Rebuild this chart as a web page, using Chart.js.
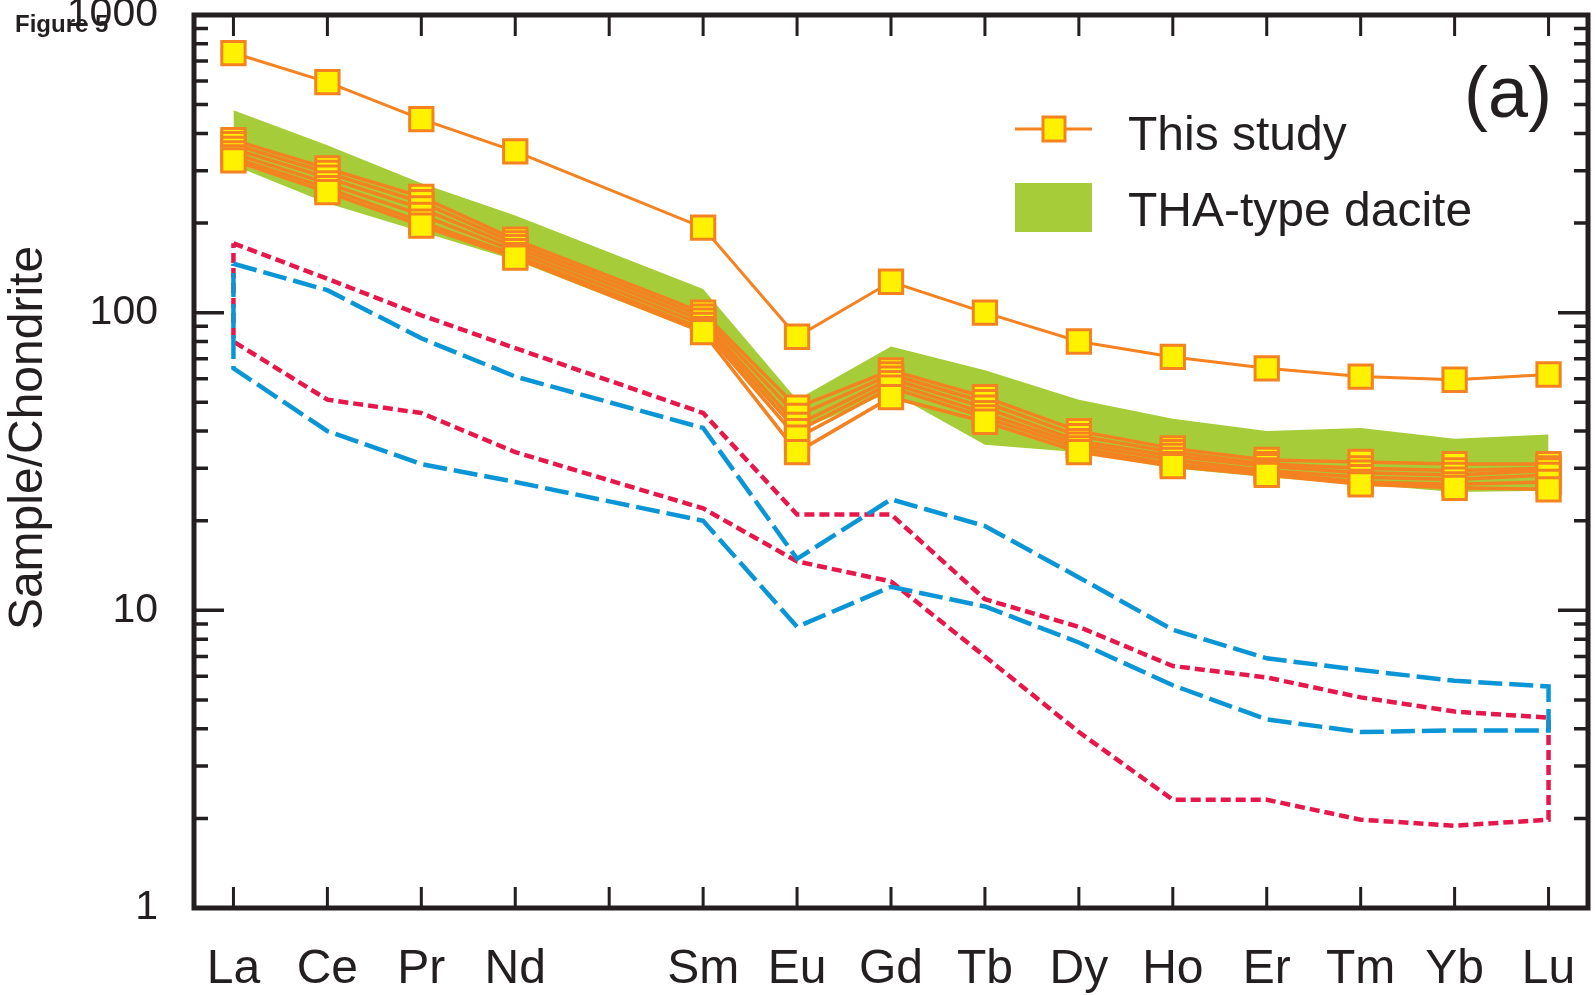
<!DOCTYPE html>
<html>
<head>
<meta charset="utf-8">
<title>REE pattern</title>
<script src="https://cdn.jsdelivr.net/npm/chart.js@4.4.1/dist/chart.umd.min.js"></script>
<style>
  html, body { margin: 0; padding: 0; background: #fff; }
  #wrap { width: 1596px; height: 995px; }
</style>
</head>
<body>
<div id="wrap"><canvas id="reeChart" width="1596" height="995"></canvas></div>
<script>
// tick labels along the bottom (Pm slot stays empty)
const tickLabels = ['La', 'Ce', 'Pr', 'Nd', '', 'Sm', 'Eu', 'Gd', 'Tb', 'Dy', 'Ho', 'Er', 'Tm', 'Yb', 'Lu'];
const ree = ['La', 'Ce', 'Pr', 'Nd', 'Sm', 'Eu', 'Gd', 'Tb', 'Dy', 'Ho', 'Er', 'Tm', 'Yb', 'Lu'];
const yTicks = [1, 10, 100, 1000];

// This study - chondrite normalised
const studyHigh = [745, 595, 447, 348, 193, 83, 127, 100, 80, 71, 65, 61, 59.5, 62];
const study1 = [380, 305, 245, 176, 100, 48, 64, 52, 40, 35, 32, 31.5, 31, 31];
const study2 = [368, 295, 235, 171, 97, 45, 62, 50, 38.5, 34, 31, 30, 29.5, 30];
const study3 = [355, 284, 224, 166, 94, 42, 60, 48, 37, 33, 30.5, 29, 28.5, 29.5];
const study4 = [343, 272, 213, 161, 91, 40, 58, 46, 36, 32, 29.5, 28, 27.5, 28.5];
const study5 = [332, 262, 202, 156, 88, 38, 56, 44.5, 35, 31, 29, 27, 26.5, 27];
const study6 = [325, 254, 196, 153, 86, 34, 52, 43, 34, 30.5, 28.5, 26.5, 25.8, 25.5];

// THA-type dacite field
const thaUpper = [479, 365, 272, 212, 120, 51, 77, 64, 51, 44, 40, 41, 37.7, 39];
const thaLower = [313, 233, 187, 150, 85, 40, 54, 36, 34, 30, 28, 26.5, 25, 25.2];

// dashed fields
const blueUpper = [146, 119, 82, 61, 41, 14.9, 23.6, 19.2, 12.9, 8.6, 6.9, 6.3, 5.8, 5.55];
const blueLower = [65, 40, 31, 27, 20, 8.8, 12, 10.3, 7.8, 5.6, 4.3, 3.9, 3.95, 3.95];
const redUpper = [171, 130, 98, 76, 46, 21, 21, 10.9, 8.8, 6.5, 5.95, 5.1, 4.57, 4.36];
const redLower = [80, 51, 46, 34, 22, 14.6, 12.5, 7.0, 3.9, 2.31, 2.31, 1.98, 1.89, 1.98];

const ORANGE = '#f58220', YELLOW = '#fff200', GREEN = '#a6cd39';
const BLUE = '#0a95d6', RED = '#e8174b', INK = '#231f20';
const FONT = 'Arial, "Liberation Sans", Helvetica, sans-serif';

const pts = arr => ree.map((el, i) => ({ x: tickLabels.indexOf(el), y: arr[i] }));
const ring = (up, lo) => pts(up).concat(pts(lo).reverse(), [pts(up)[0]]);

const studies = [studyHigh, study1, study2, study3, study4, study5, study6];

const datasets = [
    { data: pts(thaUpper), fill: '+1', backgroundColor: GREEN, borderWidth: 0, pointRadius: 0, order: 20 },
    { data: pts(thaLower), fill: false, borderWidth: 0, pointRadius: 0, order: 21 },
    { data: ring(redUpper, redLower), borderColor: RED, borderWidth: 4.5, borderDash: [10, 5], pointRadius: 0, fill: false, order: 9 },
    { data: ring(blueUpper, blueLower), borderColor: BLUE, borderWidth: 4.5, borderDash: [24, 7], pointRadius: 0, fill: false, order: 8 }
];
studies.forEach((s, k) => {
    datasets.push({ data: pts(s), borderColor: ORANGE, borderWidth: k === 0 ? 3 : 3.5, pointRadius: 0, fill: false, order: 5 });
});
studies.forEach((s, k) => {
    datasets.push({
        data: pts(s), showLine: false, pointStyle: 'rect', pointRadius: 16.5,
        pointBackgroundColor: YELLOW, pointBorderColor: ORANGE, pointBorderWidth: 3,
        order: 3 - k * 0.1
    });
});

// frame, inward ticks, legend and labels
const decor = {
    id: 'decor',
    afterDatasetsDraw(chart) {
        const { ctx, chartArea: a, scales: { x, y } } = chart;
        ctx.save();
        ctx.strokeStyle = INK;
        ctx.lineWidth = 3.5;
        ctx.beginPath();
        for (let d = 0; d < 3; d++) {
            for (let m = 1; m <= 10; m++) {
                const py = y.getPixelForValue(m * Math.pow(10, d));
                const len = (m === 1 || m === 10) ? 30 : 14;
                ctx.moveTo(a.left, py); ctx.lineTo(a.left + len, py);
                ctx.moveTo(a.right, py); ctx.lineTo(a.right - len, py);
            }
        }
        ctx.stroke();
        ctx.lineWidth = 3;
        ctx.beginPath();
        tickLabels.forEach((_, i) => {
            const px = x.getPixelForValue(i);
            ctx.moveTo(px, a.bottom); ctx.lineTo(px, a.bottom - 21);
            ctx.moveTo(px, a.top); ctx.lineTo(px, a.top + 21);
        });
        ctx.stroke();
        ctx.lineWidth = 5;
        ctx.strokeRect(a.left, a.top, a.right - a.left, a.bottom - a.top);

        // legend
        ctx.strokeStyle = ORANGE;
        ctx.lineWidth = 3;
        ctx.beginPath(); ctx.moveTo(1015, 129); ctx.lineTo(1092, 129); ctx.stroke();
        ctx.fillStyle = YELLOW;
        ctx.fillRect(1043, 117, 22, 24);
        ctx.strokeRect(1043, 117, 22, 24);
        ctx.fillStyle = GREEN;
        ctx.fillRect(1015, 183, 77, 49);

        ctx.fillStyle = INK;
        ctx.textBaseline = 'alphabetic';
        ctx.textAlign = 'left';
        ctx.font = '48px ' + FONT;
        ctx.fillText('This study', 1128, 150);
        ctx.fillText('THA-type dacite', 1128, 226);
        ctx.font = '72px ' + FONT;
        ctx.textAlign = 'right';
        ctx.textBaseline = 'middle';
        ctx.fillText('(a)', 1552, 97);
        ctx.restore();
    },
    afterDraw(chart) {
        const { ctx } = chart;
        ctx.save();
        ctx.fillStyle = INK;
        ctx.font = 'bold 24px ' + FONT;
        ctx.textAlign = 'left';
        ctx.textBaseline = 'alphabetic';
        ctx.fillText('Figure 5', 15, 32);
        ctx.translate(42, 438);
        ctx.rotate(-Math.PI / 2);
        ctx.textAlign = 'center';
        ctx.font = '48px ' + FONT;
        ctx.fillText('Sample/Chondrite', 0, 0);
        ctx.restore();
    }
};

const ctx = document.getElementById('reeChart').getContext('2d');
const reeChart = new Chart(ctx, {
    type: 'line',
    data: { datasets },
    options: {
        responsive: false,
        animation: false,
        events: [],
        layout: { autoPadding: false, padding: { top: 15, right: 8, left: 0, bottom: 0 } },
        elements: { line: { tension: 0, borderCapStyle: 'butt', borderJoinStyle: 'miter' } },
        plugins: { legend: { display: false }, tooltip: { enabled: false } },
        scales: {
            x: {
                type: 'linear', min: -0.42, max: 14.42,
                grid: { display: false }, border: { display: false },
                afterBuildTicks: s => { s.ticks = tickLabels.map((_, i) => ({ value: i })); },
                afterFit: s => { s.height = 87; s.paddingLeft = 0; s.paddingRight = 0; },
                ticks: {
                    autoSkip: false, maxRotation: 0, padding: 25, color: INK,
                    font: { size: 48, family: FONT },
                    callback: v => tickLabels[v] ?? ''
                }
            },
            y: {
                type: 'logarithmic', min: 1, max: 1000,
                grid: { display: false }, border: { display: false },
                afterBuildTicks: s => { s.ticks = yTicks.map(v => ({ value: v })); },
                afterFit: s => { s.width = 194; s.paddingTop = 0; s.paddingBottom = 0; },
                ticks: {
                    autoSkip: false, padding: 28, color: INK,
                    font: { size: 41, family: FONT },
                    callback: v => String(v)
                }
            }
        }
    },
    plugins: [decor]
});
</script>
</body>
</html>
